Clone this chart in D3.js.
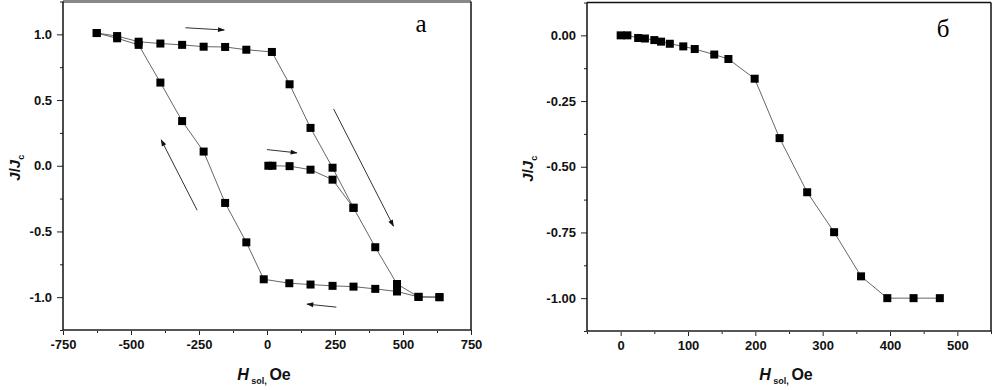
<!DOCTYPE html>
<html>
<head>
<meta charset="utf-8">
<script src="https://cdn.jsdelivr.net/npm/d3@7"></script>
<style>
  body { margin: 0; background: #fff; }
  svg { display: block; font-family: "Liberation Sans", Arial, sans-serif; }
  .tick text { font-size: 13px; font-weight: bold; fill: #111; }
  .tick line { stroke: #222; }
</style>
</head>
<body>
<svg id="chart" width="998" height="390"></svg>
<script>
// panel a: hysteresis loop, [H (Oe), J/Jc]
var loopDown = [[-626,1.01],[-551,0.987],[-472,0.944],[-392,0.93],[-312,0.92],[-233,0.906],[-154,0.904],
  [-76,0.883],[18,0.866],[83,0.62],[160,0.288],[241,-0.015],[318,-0.32],[398,-0.62],[478,-0.90],[557,-0.998],[634,-1.0]];
var loopUp = [[634,-1.0],[557,-0.998],[478,-0.957],[398,-0.937],[318,-0.92],[241,-0.914],[160,-0.904],[82,-0.894],
  [-12,-0.864],[-76,-0.583],[-154,-0.283],[-233,0.108],[-312,0.34],[-392,0.633],[-472,0.92],[-551,0.97],[-626,1.01]];
var virgin = [[5,0],[20,0],[83,-0.003],[160,-0.03],[241,-0.106],[318,-0.32]];
// arrows of panel a, [H1, J1, H2, J2] head at the second point
var arrowsA = [[-300,1.05,-157,1.033],[0,0.123,110,0.098],[-257,-0.338,-389,0.197],[245,0.432,465,-0.46],[255,-1.076,147,-1.053]];

// panel b
var curveB = [[0,0],[10,0],[26,-0.01],[36,-0.012],[50,-0.018],[60,-0.024],[73,-0.032],[93,-0.042],[110,-0.052],
  [139,-0.073],[160,-0.09],[199,-0.165],[236,-0.391],[277,-0.597],[317,-0.749],[357,-0.917],[396,-1],[435,-1],[474,-1]];

var xTicksA = [-750,-500,-250,0,250,500,750];
var yTicksA = [-1.0,-0.5,0.0,0.5,1.0];
var xTicksB = [0,100,200,300,400,500];
var yTicksB = [-1.0,-0.75,-0.5,-0.25,0.0];

var svg = d3.select('#chart');

svg.append('defs').append('marker')
  .attr('id', 'head').attr('viewBox', '0 0 10 10')
  .attr('refX', 9).attr('refY', 5)
  .attr('markerWidth', 9).attr('markerHeight', 7)
  .attr('markerUnits', 'userSpaceOnUse')
  .attr('orient', 'auto')
  .append('path').attr('d', 'M0,1.5 L10,5 L0,8.5 Z').attr('fill', '#111');

function minorTicks(lo, hi, step) {
  var out = [];
  for (var v = lo; v <= hi + 1e-9; v += step) out.push(+v.toFixed(4));
  return out;
}

function drawPanel(o) {
  var x = d3.scaleLinear().domain(o.xDomain).range([o.left, o.right]);
  var y = d3.scaleLinear().domain(o.yDomain).range([o.bottom, o.top]);
  var g = svg.append('g');

  // minor ticks
  g.append('g').attr('transform', 'translate(0,' + o.bottom + ')')
    .call(d3.axisBottom(x).tickValues(o.xMinor).tickSize(3).tickFormat(''))
    .select('.domain').remove();
  g.append('g').attr('transform', 'translate(' + o.left + ',0)')
    .call(d3.axisLeft(y).tickValues(o.yMinor).tickSize(3).tickFormat(''))
    .select('.domain').remove();

  // major ticks
  var xa = g.append('g').attr('transform', 'translate(0,' + o.bottom + ')')
    .call(d3.axisBottom(x).tickValues(o.xTicks).tickSize(5).tickPadding(5)
      .tickFormat(function(d) { return String(d); }));
  xa.select('.domain').remove();
  var ya = g.append('g').attr('transform', 'translate(' + o.left + ',0)')
    .call(d3.axisLeft(y).tickValues(o.yTicks).tickSize(6).tickPadding(5)
      .tickFormat(function(d) { return d.toFixed(o.yDec); }));
  ya.select('.domain').remove();

  // frame
  g.append('line').attr('x1', o.left).attr('x2', o.right).attr('y1', o.top).attr('y2', o.top)
    .attr('stroke', o.topColor).attr('stroke-width', o.topWidth);
  g.append('line').attr('x1', o.left).attr('x2', o.right).attr('y1', o.bottom).attr('y2', o.bottom)
    .attr('stroke', '#555').attr('stroke-width', 2);
  g.append('line').attr('x1', o.left).attr('x2', o.left).attr('y1', o.top).attr('y2', o.bottom)
    .attr('stroke', '#111').attr('stroke-width', 1.5);
  g.append('line').attr('x1', o.right).attr('x2', o.right).attr('y1', o.top).attr('y2', o.bottom)
    .attr('stroke', '#111').attr('stroke-width', 1.5);

  var line = d3.line().x(function(d) { return x(d[0]); }).y(function(d) { return y(d[1]); });
  o.series.forEach(function(s) {
    g.append('path').datum(s).attr('d', line)
      .attr('fill', 'none').attr('stroke', '#555').attr('stroke-width', 0.9);
  });
  o.series.forEach(function(s) {
    g.selectAll(null).data(s).enter().append('rect')
      .attr('x', function(d) { return x(d[0]) - 4; })
      .attr('y', function(d) { return y(d[1]) - 4; })
      .attr('width', 8).attr('height', 8).attr('fill', '#000');
  });

  (o.arrows || []).forEach(function(a) {
    g.append('line')
      .attr('x1', x(a[0])).attr('y1', y(a[1])).attr('x2', x(a[2])).attr('y2', y(a[3]))
      .attr('stroke', '#333').attr('stroke-width', 1).attr('marker-end', 'url(#head)');
  });

  // panel letter
  g.append('text').attr('x', o.letterX).attr('y', o.letterY)
    .attr('text-anchor', 'middle')
    .style('font-family', '"Liberation Serif", "Times New Roman", serif')
    .style('font-size', '25px').text(o.letter);

  // y label
  var yl = g.append('text')
    .attr('transform', 'translate(' + o.yLabelX + ',' + ((o.top + o.bottom) / 2 + 2) + ') rotate(-90)')
    .attr('text-anchor', 'middle')
    .style('font-size', '15px').style('font-weight', 'bold').attr('fill', '#111');
  yl.append('tspan').style('font-style', 'italic').text('J');
  yl.append('tspan').text('/');
  yl.append('tspan').style('font-style', 'italic').text('J');
  yl.append('tspan').attr('dy', 4).style('font-size', '9px').text('c');

  // x label
  var xl = g.append('text')
    .attr('x', (o.left + o.right) / 2 - 3).attr('y', 380)
    .attr('text-anchor', 'middle')
    .style('font-size', '16px').style('font-weight', 'bold').attr('fill', '#111');
  xl.append('tspan').style('font-style', 'italic').text('H');
  xl.append('tspan').attr('dy', 4).style('font-size', '9px').text(' sol');
  xl.append('tspan').style('font-size', '9px').text(', ');
  xl.append('tspan').attr('dy', -4).text('Oe');
}

drawPanel({
  left: 63, right: 471, top: 1.5, bottom: 330,
  xDomain: [-750, 750], yDomain: [-1.25, 1.25],
  xTicks: xTicksA, yTicks: yTicksA, yDec: 1,
  xMinor: minorTicks(-625, 625, 250), yMinor: minorTicks(-1.25, 1.25, 0.5),
  series: [loopDown, loopUp, virgin], arrows: arrowsA,
  topColor: '#888', topWidth: 3,
  letter: '\u0430', letterX: 421, letterY: 32, yLabelX: 20
});

drawPanel({
  left: 587, right: 991, top: 2.5, bottom: 331,
  xDomain: [-50, 550], yDomain: [-1.125, 0.125],
  xTicks: xTicksB, yTicks: yTicksB, yDec: 2,
  xMinor: minorTicks(-50, 550, 100), yMinor: minorTicks(-1.125, 0.125, 0.25),
  series: [curveB],
  topColor: '#111', topWidth: 1.5,
  letter: '\u0431', letterX: 943, letterY: 37, yLabelX: 533
});
</script>
</body>
</html>
